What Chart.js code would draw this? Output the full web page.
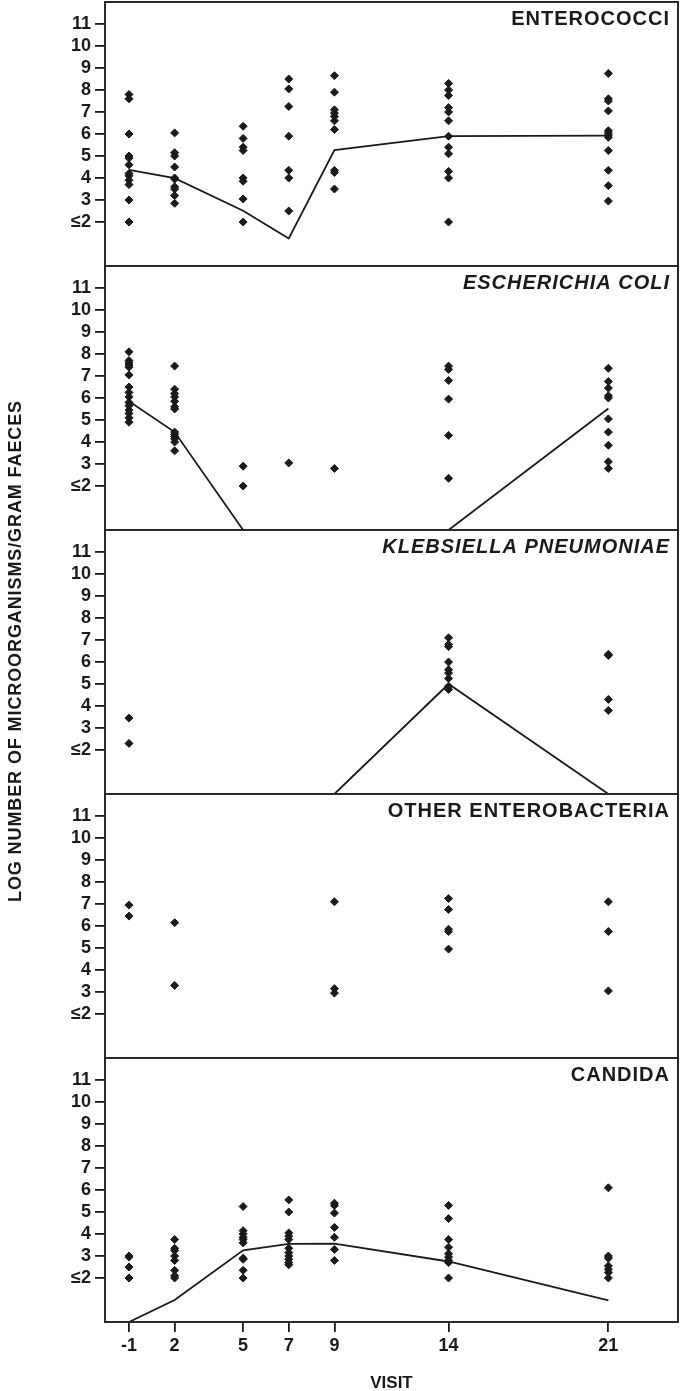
<!DOCTYPE html>
<html>
<head>
<meta charset="utf-8">
<title>Faecal flora by visit</title>
<script src="https://cdn.jsdelivr.net/npm/chart.js@4.4.1/dist/chart.umd.min.js"></script>
<style>
  html, body { margin: 0; padding: 0; background: #fff; }
  canvas { display: block; }
</style>
</head>
<body>
<canvas id="chart" width="680" height="1391"></canvas>
<script>
// ---------- DATA ----------
// visit labels on the axis; the baseline visit "-1" sits at day 0
const visitLabels = ['-1', '2', '5', '7', '9', '14', '21'];
const visitPos = [0, 2, 5, 7, 9, 14, 21];
const yTicks = [2, 3, 4, 5, 6, 7, 8, 9, 10, 11];
const panelNames = ['ENTEROCOCCI', 'ESCHERICHIA COLI', 'KLEBSIELLA PNEUMONIAE', 'OTHER ENTEROBACTERIA', 'CANDIDA'];
const panelItalic = [false, true, true, false, false];

// individual log counts, one list per visit
const enteroPts = [
  [7.8, 7.6, 6.0, 5.0, 4.9, 4.6, 4.2, 4.1, 3.9, 3.7, 3.0, 2.0],
  [6.05, 5.15, 5.0, 4.5, 4.0, 3.95, 3.6, 3.5, 3.2, 2.85],
  [6.35, 5.8, 5.4, 5.25, 4.0, 3.85, 3.05, 2.0],
  [8.5, 8.05, 7.25, 5.9, 4.35, 4.0, 2.5],
  [8.65, 7.9, 7.1, 6.95, 6.8, 6.6, 6.2, 4.35, 4.25, 3.5],
  [8.3, 8.0, 7.75, 7.2, 7.0, 6.6, 5.9, 5.4, 5.1, 4.3, 4.0, 2.0],
  [8.75, 7.6, 7.5, 7.05, 6.15, 6.05, 5.95, 5.85, 5.25, 4.35, 3.65, 2.95]
];
const ecoliPts = [
  [8.1, 7.7, 7.6, 7.5, 7.4, 7.05, 6.5, 6.25, 6.05, 5.8, 5.65, 5.45, 5.3, 5.1, 4.9],
  [7.45, 6.4, 6.2, 6.05, 5.85, 5.6, 5.5, 4.45, 4.35, 4.25, 4.15, 4.0, 3.6],
  [2.9, 2.0],
  [3.05],
  [2.8],
  [7.45, 7.3, 6.8, 5.95, 4.3, 2.35],
  [7.35, 6.75, 6.45, 6.1, 6.0, 5.05, 4.45, 3.85, 3.1, 2.8]
];
const klebPts = [
  [3.45, 2.3],
  [],
  [],
  [],
  [],
  [7.1, 6.8, 6.7, 6.0, 5.65, 5.5, 5.25, 4.9, 4.75],
  [6.35, 6.3, 4.3, 3.8]
];
const otherPts = [
  [6.95, 6.45],
  [6.15, 3.3],
  [],
  [],
  [7.1, 3.15, 2.95],
  [7.25, 6.75, 5.85, 5.75, 4.95],
  [7.1, 5.75, 3.05]
];
const candidaPts = [
  [3.0, 2.95, 2.5, 2.0],
  [3.75, 3.35, 3.25, 3.0, 2.8, 2.35, 2.1, 2.0],
  [5.25, 4.15, 4.0, 3.85, 3.75, 3.6, 2.9, 2.85, 2.35, 2.0],
  [5.55, 5.0, 4.05, 3.9, 3.75, 3.35, 3.15, 3.0, 2.85, 2.7, 2.6],
  [5.4, 5.3, 4.95, 4.3, 3.85, 3.3, 2.8],
  [5.3, 4.7, 3.75, 3.4, 3.1, 2.95, 2.8, 2.7, 2.0],
  [6.1, 3.0, 2.9, 2.55, 2.4, 2.25, 2.0]
];

// mean line per visit (null = panel has no line)
const enteroMean = [4.37, 3.99, 2.51, 1.25, 5.27, 5.9, 5.93];
const ecoliMean = [5.85, 4.45, 0, 0, 0, 0, 5.52];
const klebMean = [0, 0, 0, 0, 0, 5.0, 0];
const otherMean = null;
const candidaMean = [0, 1.0, 3.26, 3.55, 3.56, 2.75, 0.98];

// ---------- SETUP ----------
const INK = '#1a1a1a';
const FONT = "'Liberation Sans', Arial, Helvetica, sans-serif";
const tickFont = { family: FONT, size: 18, weight: 'bold' };

const panelIds = ['y1', 'y2', 'y3', 'y4', 'y5'];
const panelPts = [enteroPts, ecoliPts, klebPts, otherPts, candidaPts];
const panelMeans = [enteroMean, ecoliMean, klebMean, otherMean, candidaMean];

const datasets = [];
panelIds.forEach((id, i) => {
  const pts = [];
  panelPts[i].forEach((list, j) => list.forEach(v => pts.push({ x: visitPos[j], y: v })));
  datasets.push({
    label: panelNames[i],
    yAxisID: id,
    data: pts,
    pointStyle: 'rectRot',
    pointRadius: 4,
    backgroundColor: INK,
    borderColor: INK,
    borderWidth: 1
  });
  if (panelMeans[i]) {
    datasets.push({
      label: panelNames[i] + ' mean',
      yAxisID: id,
      data: visitPos.map((x, j) => ({ x, y: panelMeans[i][j] })),
      showLine: true,
      pointRadius: 0,
      borderColor: INK,
      borderWidth: 1.8,
      tension: 0
    });
  }
});

// no extra room for half tick labels: panels butt against each other
function noPad(s) {
  s.paddingTop = 0;
  s.paddingBottom = 0;
  s.paddingLeft = 0;
  s.paddingRight = 0;
}

const scales = {
  x: {
    type: 'linear',
    min: -1.05,
    max: 24.05,
    afterBuildTicks: s => { s.ticks = visitPos.map(v => ({ value: v })); },
    afterFit: s => { s.height = 69; noPad(s); },
    ticks: {
      callback: v => visitLabels[visitPos.indexOf(v)],
      font: tickFont, color: INK, padding: 3, autoSkip: false, maxRotation: 0
    },
    grid: { drawOnChartArea: false, drawTicks: true, tickLength: 10, color: INK, lineWidth: 1.8 },
    border: { display: false },
    title: {
      display: true, text: 'VISIT', color: INK,
      font: { family: FONT, size: 17, weight: 'bold', lineHeight: 1 },
      padding: { top: 0, bottom: -1 }
    }
  }
};
panelIds.forEach((id, i) => {
  scales[id] = {
    type: 'linear',
    position: 'left',
    stack: 'panels',
    stackWeight: 1,
    weight: 5 - i,
    min: 0,
    max: 12,
    afterBuildTicks: s => { s.ticks = yTicks.map(v => ({ value: v })); },
    afterFit: s => { s.width = 105; noPad(s); },
    ticks: {
      callback: v => (v === 2 ? '≤2' : String(v)),
      font: tickFont, color: INK, padding: 4, autoSkip: false
    },
    grid: { drawOnChartArea: false, drawTicks: true, tickLength: 10, color: INK, lineWidth: 1.8 },
    border: { display: false }
  };
});

// frames, panel names and the shared y title
const panelDecor = {
  id: 'panelDecor',
  afterDatasetsDraw(chart) {
    const { ctx, chartArea } = chart;
    ctx.save();
    ctx.strokeStyle = '#2a2a2a';
    ctx.lineWidth = 2;
    ctx.fillStyle = INK;
    ctx.textAlign = 'right';
    ctx.textBaseline = 'middle';
    ctx.letterSpacing = '1px';
    panelIds.forEach((id, i) => {
      const s = chart.scales[id];
      ctx.strokeRect(chartArea.left, s.top, chartArea.right - chartArea.left, s.bottom - s.top);
      ctx.font = (panelItalic[i] ? 'italic ' : '') + 'bold 20px ' + FONT;
      ctx.fillText(panelNames[i], chartArea.right - 8, s.top + 17);
    });
    ctx.translate(16, (chartArea.top + chartArea.bottom) / 2 - 11);
    ctx.rotate(-Math.PI / 2);
    ctx.textAlign = 'center';
    ctx.letterSpacing = '0.9px';
    ctx.font = 'bold 18px ' + FONT;
    ctx.fillText('LOG NUMBER OF MICROORGANISMS/GRAM FAECES', 0, 0);
    ctx.restore();
  }
};

new Chart(document.getElementById('chart'), {
  type: 'scatter',
  data: { datasets },
  options: {
    responsive: false,
    animation: false,
    layout: { autoPadding: false, padding: { left: 0, right: 2, top: 2, bottom: 0 } },
    scales,
    plugins: { legend: { display: false }, tooltip: { enabled: false } }
  },
  plugins: [panelDecor]
});
</script>
</body>
</html>
